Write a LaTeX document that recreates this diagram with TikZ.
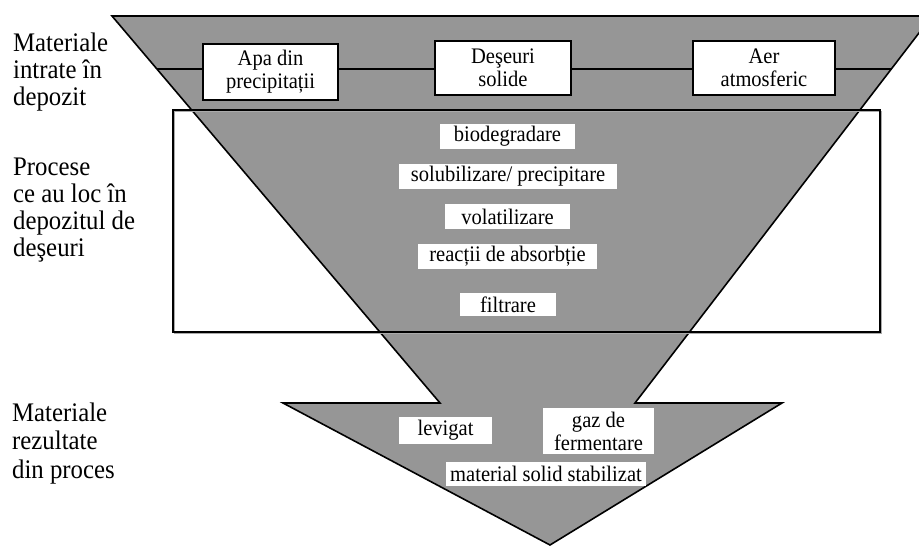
\documentclass[tikz,border=0pt]{standalone}
\usepackage{fontspec}
\setmainfont{Liberation Serif}[FakeStretch=0.925]
\definecolor{fgray}{RGB}{150,150,150}
\definecolor{shadowgray}{RGB}{170,170,170}
\begin{document}
\begin{tikzpicture}[x=1pt,y=-1pt,
  lbl/.style={anchor=base west, align=left, inner sep=0pt, font=\fontsize{26.8}{27}\selectfont},
  inbox/.style={draw, line width=1.6pt, fill=white, align=center, inner sep=0pt, font=\fontsize{22.2}{23}\selectfont},
  proc/.style={fill=white, inner sep=0pt, align=center, font=\fontsize{22.2}{23}\selectfont},
  edge/.style={line width=1.6pt, line join=miter}]
\useasboundingbox (0,0) rectangle (919,546);
\clip (0,0) rectangle (919,546);
% funnel + arrow
\coordinate (p1) at (112,16);
\coordinate (p2) at (932,16);
\coordinate (p3) at (635,403);
\coordinate (p4) at (782,403);
\coordinate (p5) at (550,545);
\coordinate (p6) at (283,403);
\coordinate (p7) at (440,403);
\filldraw[fill=fgray, edge] (p1) -- (p2) -- (p3) -- (p4) -- (p5) -- (p6) -- (p7) -- cycle;
% horizontal line of inputs
\coordinate (hl) at (157,69);
\coordinate (hr) at (892,69);
\draw[edge] (hl) -- (hr);
% process rectangle
\draw[shadowgray, line width=1.6pt] (174.5,111.5) rectangle (881.5,333.5);
\node (procbox) [draw, line width=1.6pt, minimum width=707pt, minimum height=222pt, inner sep=0pt] at (526.5,221) {};
% input boxes
\node (apa) [inbox, minimum width=135pt, minimum height=56pt] at (270.5,72) {Apa din\\precipitații};
\node (des) [inbox, minimum width=136pt, minimum height=54pt] at (503,68) {Deşeuri\\solide};
\node (aer) [inbox, minimum width=142pt, minimum height=54pt] at (764,68) {Aer\\atmosferic};
% processes
\node (bio) [proc, minimum width=135pt, minimum height=25pt] at (507.5,136.5) {biodegradare};
\node (sol) [proc, minimum width=218pt, minimum height=25pt] at (508,176.5) {solubilizare/ precipitare};
\node (vol) [proc, minimum width=125pt, minimum height=25pt] at (507.5,216.5) {volatilizare};
\node (rea) [proc, minimum width=179pt, minimum height=25pt] at (507.5,256.5) {reacții de absorbție};
\node (fil) [proc, minimum width=96pt, minimum height=23pt] at (508,304.5) {filtrare};
% outputs
\node (lev) [proc, minimum width=93pt, minimum height=27pt] at (445.5,430.5) {levigat};
\node (gaz) [proc, minimum width=111pt, minimum height=46pt] at (598.5,431) {gaz de\\fermentare};
\node (mat) [proc, minimum width=200pt, minimum height=24pt] at (546,474) {material solid stabilizat};
% left labels (base anchor = baseline of last line)
\node (l1) [lbl] at (13,105) {Materiale\\intrate în\\depozit};
\node (l2) [lbl] at (13,256) {Procese\\ce au loc în\\depozitul de\\deşeuri};
\node (l3) [lbl, font=\fontsize{26.8}{28.5}\selectfont] at (12,478) {Materiale\\rezultate\\din proces};
\end{tikzpicture}
\end{document}
